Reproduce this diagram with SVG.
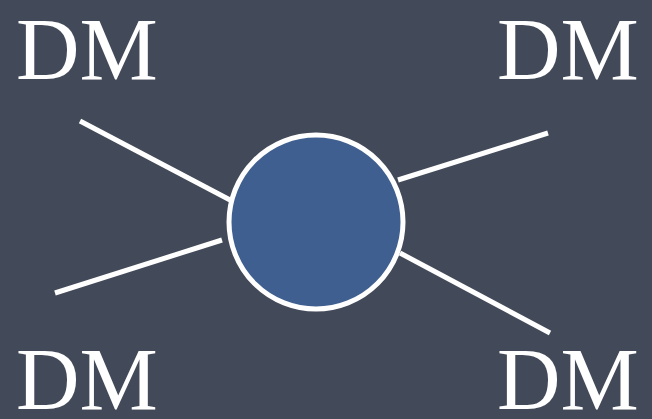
<svg xmlns="http://www.w3.org/2000/svg" width="652" height="419" viewBox="0 0 652 419">
<style>
.lbl{font-family:"Liberation Serif","Times New Roman",serif;font-size:88px;fill:#ffffff}
.ln{stroke:#ffffff;stroke-width:5;fill:none}
</style>
<rect width="652" height="419" fill="#424958"/>
<g id="connectors">
<line class="ln" x1="80" y1="121" x2="232" y2="201"/>
<line class="ln" x1="55" y1="293" x2="222" y2="240"/>
<line class="ln" x1="398" y1="180" x2="548" y2="133"/>
<line class="ln" x1="400" y1="253" x2="550" y2="333"/>
</g>
<g id="center">
<circle cx="316" cy="222" r="87" fill="#3e5f8f" stroke="#ffffff" stroke-width="5"/>
</g>
<g id="dm-tl"><text class="lbl" x="16" y="79">DM</text></g>
<g id="dm-tr"><text class="lbl" x="497" y="79">DM</text></g>
<g id="dm-bl"><text class="lbl" x="16" y="409">DM</text></g>
<g id="dm-br"><text class="lbl" x="497" y="409">DM</text></g>
</svg>
